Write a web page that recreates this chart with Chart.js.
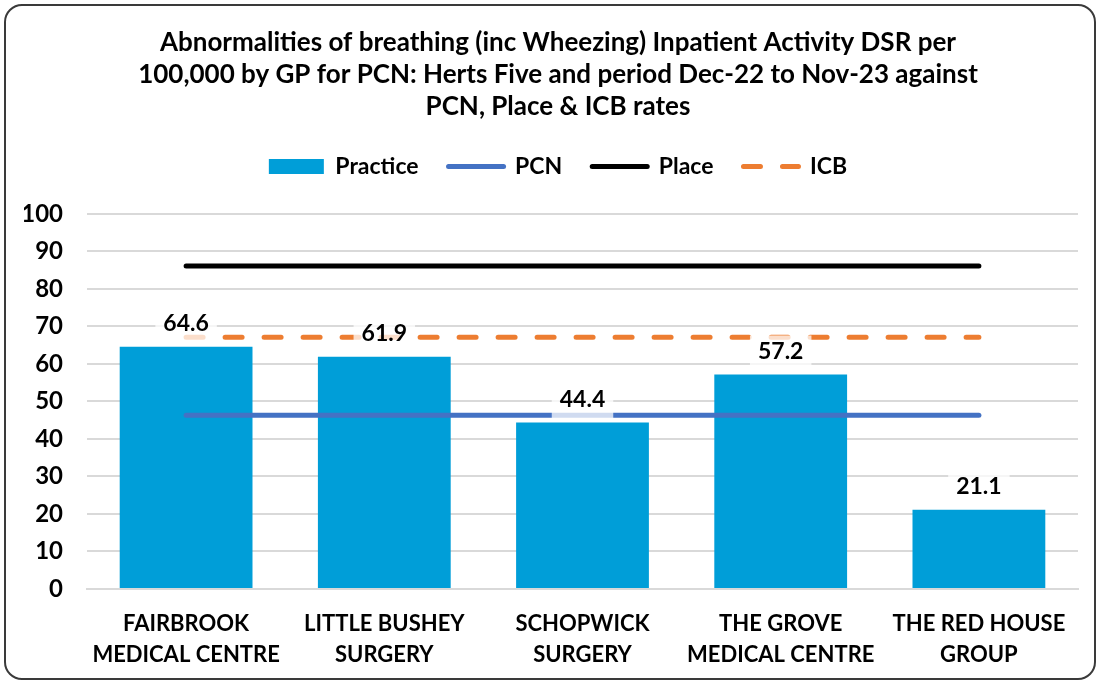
<!DOCTYPE html>
<html><head><meta charset="utf-8">
<script src="https://cdn.jsdelivr.net/npm/chart.js@4.4.1/dist/chart.umd.min.js"></script>
<style>
html,body{margin:0;padding:0;background:#fff;}
#wrap{position:relative;width:1102px;height:682px;overflow:hidden;}
#frame{position:absolute;left:4px;top:4px;width:1092px;height:676px;border:2px solid #3a3a3a;border-radius:18px;pointer-events:none;box-sizing:border-box;}
canvas{position:absolute;left:0;top:0;}
</style>
</head><body>
<div id="wrap"><canvas id="c" width="1102" height="682"></canvas><div id="frame"></div></div>
<script>
const titleLines = ["Abnormalities of breathing (inc Wheezing) Inpatient Activity DSR per",
  "100,000 by GP for PCN: Herts Five and period Dec-22 to Nov-23 against",
  "PCN, Place & ICB rates"];
const categories = [["FAIRBROOK","MEDICAL CENTRE"],["LITTLE BUSHEY","SURGERY"],["SCHOPWICK","SURGERY"],["THE GROVE","MEDICAL CENTRE"],["THE RED HOUSE","GROUP"]];
const practiceValues = [64.6, 61.9, 44.4, 57.2, 21.1];
const pcnValues = [46.3, 46.3, 46.3, 46.3, 46.3];
const placeValues = [86.1, 86.1, 86.1, 86.1, 86.1];
const icbValues = [67.1, 67.1, 67.1, 67.1, 67.1];
const yTicks = [0,10,20,30,40,50,60,70,80,90,100];

const FONT = "Lato, 'Liberation Sans', sans-serif";
const TXT = '#000';

const barLabels = {
  id:'barLabels',
  afterDatasetsDraw(chart){
    const ctx = chart.ctx;
    const meta = chart.getDatasetMeta(0);
    ctx.save();
    ctx.font = "bold 23px " + FONT;
    ctx.textAlign = 'center';
    ctx.textBaseline = 'middle';
    meta.data.forEach((bar, i) => {
      const txt = practiceValues[i].toFixed(1);
      const w = ctx.measureText(txt).width;
      const cx = bar.x, cy = bar.y - 23;
      ctx.fillStyle = 'rgba(255,255,255,0.75)';
      ctx.fillRect(cx - w/2 - 8, cy - 16, w + 16, 36);
      ctx.fillStyle = TXT;
      ctx.fillText(txt, cx, cy);
    });
    ctx.restore();
  }
};

new Chart(document.getElementById('c'), {
  data: {
    labels: categories,
    datasets: [
      {type:'bar', label:'Practice', data:practiceValues, backgroundColor:'#009ED8', borderWidth:0, order:3, categoryPercentage:1, barPercentage:0.67},
      {type:'line', label:'PCN', data:pcnValues, borderColor:'#4472C4', backgroundColor:'#4472C4', borderWidth:5, pointRadius:0, borderCapStyle:'round', order:2},
      {type:'line', label:'Place', data:placeValues, borderColor:'#000000', backgroundColor:'#000000', borderWidth:5, pointRadius:0, borderCapStyle:'round', order:1},
      {type:'line', label:'ICB', data:icbValues, borderColor:'#ED7D31', backgroundColor:'#ED7D31', borderWidth:5, pointRadius:0, borderCapStyle:'round', borderDash:[17,22], order:0}
    ]
  },
  options: {
    responsive:false, animation:false,
    layout:{padding:{left:24, right:10, top:27, bottom:13}},
    plugins:{
      tooltip:{enabled:false},
      title:{display:true, text:titleLines, color:TXT, font:{family:FONT, size:26, weight:'bold', lineHeight:1.23}, padding:{top:0, bottom:2}},
      legend:{position:'top', labels:{
        usePointStyle:true, pointStyleWidth:55, boxHeight:15, padding:30, color:TXT,
        font:{family:FONT, size:23, weight:'bold'},
        sort:(a,b)=>a.datasetIndex-b.datasetIndex,
        generateLabels:(chart)=>chart.data.datasets.map((ds,i)=>({
          text:ds.label, datasetIndex:i, hidden:false, fontColor:TXT,
          fillStyle: ds.type==='bar' ? ds.backgroundColor : ds.borderColor,
          strokeStyle: ds.type==='bar' ? ds.backgroundColor : ds.borderColor,
          lineWidth: ds.type==='bar' ? 0 : 5,
          lineDash: ds.borderDash || [],
          lineCap: 'round',
          pointStyle: ds.type==='bar' ? 'rect' : 'line'
        }))
      }}
    },
    scales:{
      x:{
        grid:{display:false, drawTicks:false},
        border:{color:'#D9D9D9', width:2},
        ticks:{color:TXT, font:{family:FONT, size:22, weight:'bold', lineHeight:1.4}, maxRotation:0, autoSkip:false, padding:20},
        afterFit:(s)=>{ s.height = 80; }
      },
      spacer:{
        type:'category', position:'top', display:true,
        grid:{display:false, drawTicks:false}, border:{display:false}, ticks:{display:false},
        afterFit:(s)=>{ s.height = 26; }
      },
      y:{
        min:0, max:100,
        afterBuildTicks:(s)=>{ s.ticks = yTicks.map(v=>({value:v})); },
        ticks:{color:TXT, font:{family:FONT, size:24, weight:'bold'}, padding:24},
        grid:{color:'#D9D9D9', lineWidth:2, drawTicks:false},
        border:{display:false},
        afterFit:(s)=>{ s.width = 63; }
      },
      spacerRight:{
        type:'linear', position:'right', display:true,
        grid:{display:false, drawTicks:false}, border:{display:false}, ticks:{display:false},
        afterFit:(s)=>{ s.width = 14; }
      }
    }
  },
  plugins:[barLabels]
});
</script>
</body></html>
